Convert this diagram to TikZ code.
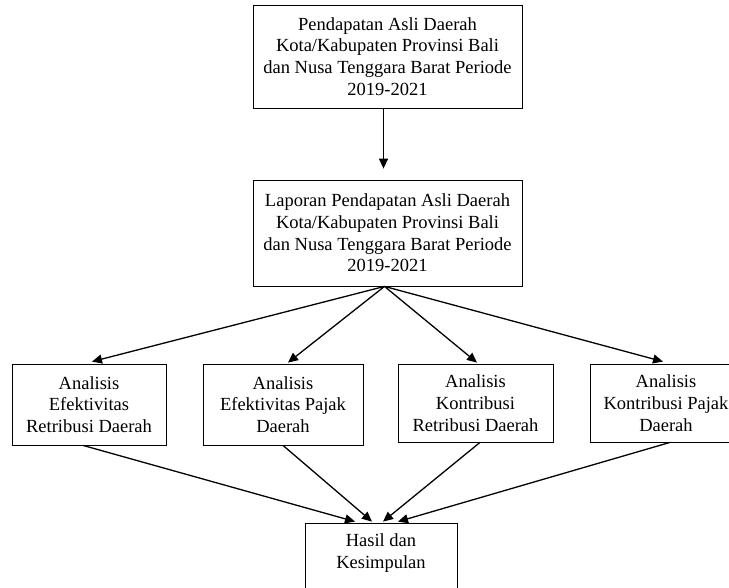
\documentclass[tikz,border=0pt]{standalone}
\usepackage{fontspec}
\setmainfont{Liberation Serif}
\usetikzlibrary{arrows.meta,calc}
\begin{document}
\begin{tikzpicture}[x=1pt,y=-1pt,
  box/.style={draw=black, line width=0.8pt, align=center, inner sep=0pt, font=\fontsize{18.5}{21.7}\selectfont},
  arr/.style={-{Triangle[length=10pt,width=9pt]}, line width=1.3pt}]
\useasboundingbox (0,0) rectangle (729,587);
\node[box, minimum width=269pt, minimum height=103pt] (top) at (387.5,56.5) {Pendapatan Asli Daerah\\Kota/Kabupaten Provinsi Bali\\dan Nusa Tenggara Barat Periode\\2019-2021};
\node[box, minimum width=269pt, minimum height=106pt] (lap) at (387.5,233) {Laporan Pendapatan Asli Daerah\\Kota/Kabupaten Provinsi Bali\\dan Nusa Tenggara Barat Periode\\2019-2021};
\node[box, minimum width=154pt, minimum height=81pt] (r1) at (89,404.5) {Analisis\\Efektivitas\\Retribusi Daerah};
\node[box, minimum width=160pt, minimum height=81pt] (r2) at (283,404.5) {Analisis\\Efektivitas Pajak\\Daerah};
\node[box, minimum width=155pt, minimum height=78pt] (r3) at (475.5,403) {Analisis\\Kontribusi\\Retribusi Daerah};
\node[box, minimum width=152pt, minimum height=78pt] (r4) at (666,403) {Analisis\\Kontribusi Pajak\\Daerah};
\node[box, minimum width=152pt, minimum height=84pt] (hasil) at (381,565) {Hasil dan\\Kesimpulan\\\strut};
\draw[arr] ($(top.south)+(-4,0)$) -- ($(lap.north)+(-4,-11)$);
\draw[arr] ($(lap.south)+(-3,0)$) -- ($(r1.north)+(3,-2)$);
\draw[arr] ($(lap.south)+(-3,0)$) -- ($(r2.north)+(5,-1)$);
\draw[arr] ($(lap.south)+(-3,0)$) -- ($(r3.north)+(1.5,-1)$);
\draw[arr] ($(lap.south)+(-3,0)$) -- ($(r4.north)+(-3,-2)$);
\draw[arr] ($(r1.south)+(-6,0)$) -- ($(hasil.north)+(-26,-1)$);
\draw[arr] (r2.south) -- ($(hasil.north)+(-9,-1)$);
\draw[arr] ($(r3.south)+(4.5,0)$) -- ($(hasil.north)+(2,-1)$);
\draw[arr] ($(r4.south)+(4,0)$) -- ($(hasil.north)+(17,-1)$);
\end{tikzpicture}
\end{document}
